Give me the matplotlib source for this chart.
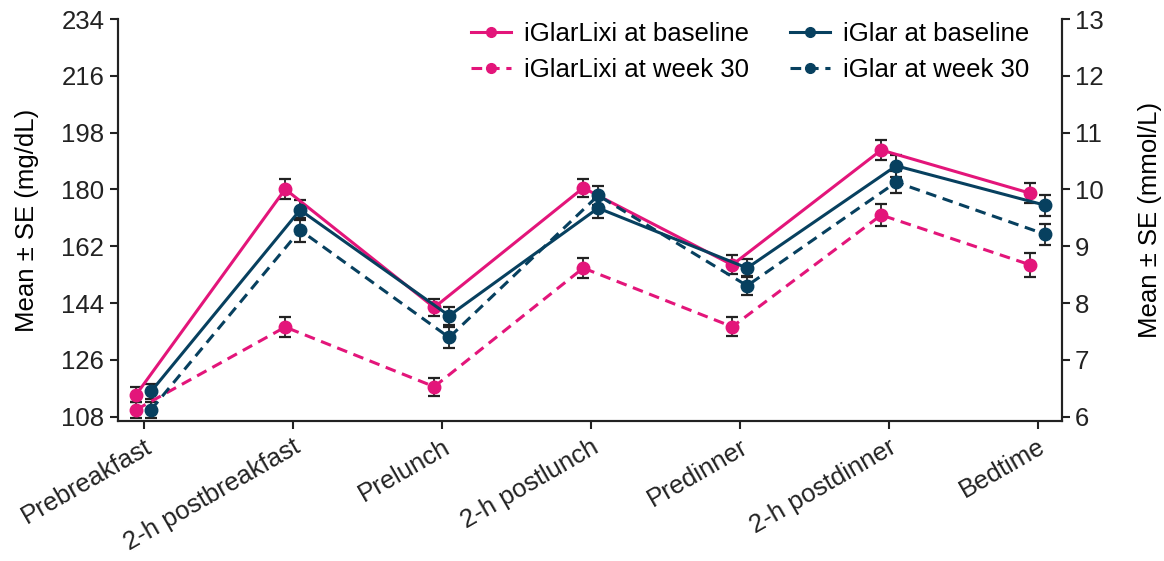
import matplotlib.pyplot as plt
import numpy as np

plt.rcParams['font.family'] = ['Liberation Sans', 'DejaVu Sans']

categories = ['Prebreakfast', '2-h postbreakfast', 'Prelunch', '2-h postlunch',
              'Predinner', '2-h postdinner', 'Bedtime']

# mean glucose, mg/dL
lixi_base = [115.0, 180.1, 142.6, 180.5, 156.1, 192.5, 178.8]
lixi_wk30 = [110.2, 136.4, 117.5, 155.1, 136.5, 171.9, 156.1]
glar_base = [116.0, 173.5, 140.0, 174.1, 155.1, 187.5, 175.0]
glar_wk30 = [110.2, 167.1, 133.1, 178.1, 149.5, 182.3, 165.8]

# standard errors
lixi_base_se = [2.5, 3.2, 2.6, 2.9, 3.0, 3.3, 3.2]
lixi_wk30_se = [2.5, 3.2, 2.8, 3.2, 3.0, 3.6, 3.7]
glar_base_se = [2.5, 3.3, 2.8, 3.0, 2.9, 3.4, 3.3]
glar_wk30_se = [2.5, 3.7, 3.4, 3.1, 3.1, 3.4, 3.4]

pink = '#E3157A'
navy = '#07405F'
fs = 18.5

fig = plt.figure(figsize=(11.64, 5.61), dpi=100)
ax = fig.add_axes([0.101, 0.25, 0.811, 0.716])

x = np.arange(len(categories))
off = 0.05

series = [
    (lixi_base, lixi_base_se, pink, '-', -off, 'iGlarLixi at baseline'),
    (glar_base, glar_base_se, navy, '-', off, 'iGlar at baseline'),
    (lixi_wk30, lixi_wk30_se, pink, (0, (3.5, 2.2)), -off, 'iGlarLixi at week 30'),
    (glar_wk30, glar_wk30_se, navy, (0, (3.5, 2.2)), off, 'iGlar at week 30'),
]

handles = {}
for vals, se, col, ls, dx, lab in series:
    ax.errorbar(x + dx, vals, yerr=se, fmt='none', ecolor='#222222',
                elinewidth=1.3, capsize=4, capthick=1.6, zorder=2)
    h, = ax.plot(x + dx, vals, color=col, linestyle=ls, linewidth=2.2,
                 marker='o', markersize=9, zorder=3, label=lab)
    handles[lab] = h

ax.set_xlim(-0.175, 6.16)
ax.set_ylim(106.7, 234)
ax.set_yticks(np.arange(108, 235, 18))
ax.set_xticks(x)
ax.set_xticklabels(categories, rotation=30, ha='right', rotation_mode='anchor')
ax.set_ylabel('Mean ± SE (mg/dL)', fontsize=fs, labelpad=16)

ax2 = ax.twinx()
ax2.set_ylim(106.7 / 18, 234 / 18)
ax2.set_yticks(np.arange(6, 14, 1))
ax2.set_ylabel('Mean ± SE (mmol/L)', fontsize=fs, labelpad=25)

for a in (ax, ax2):
    a.spines['top'].set_visible(False)
    for s in a.spines.values():
        s.set_linewidth(1.5)
        s.set_color('#222222')
    a.tick_params(labelsize=fs, width=1.5, length=6, colors='#222222')
ax.tick_params(axis='x', pad=4)

order = ['iGlarLixi at baseline', 'iGlarLixi at week 30',
         'iGlar at baseline', 'iGlar at week 30']
leg = ax.legend([handles[k] for k in order], order, ncol=2, loc='upper right',
                frameon=False, fontsize=fs, handlelength=1.55, columnspacing=1.6,
                handletextpad=0.5, bbox_to_anchor=(0.99, 1.05), labelspacing=0.45)
for h in leg.legend_handles:
    h.set_markersize(7)

fig.savefig('out.png', dpi=100)
